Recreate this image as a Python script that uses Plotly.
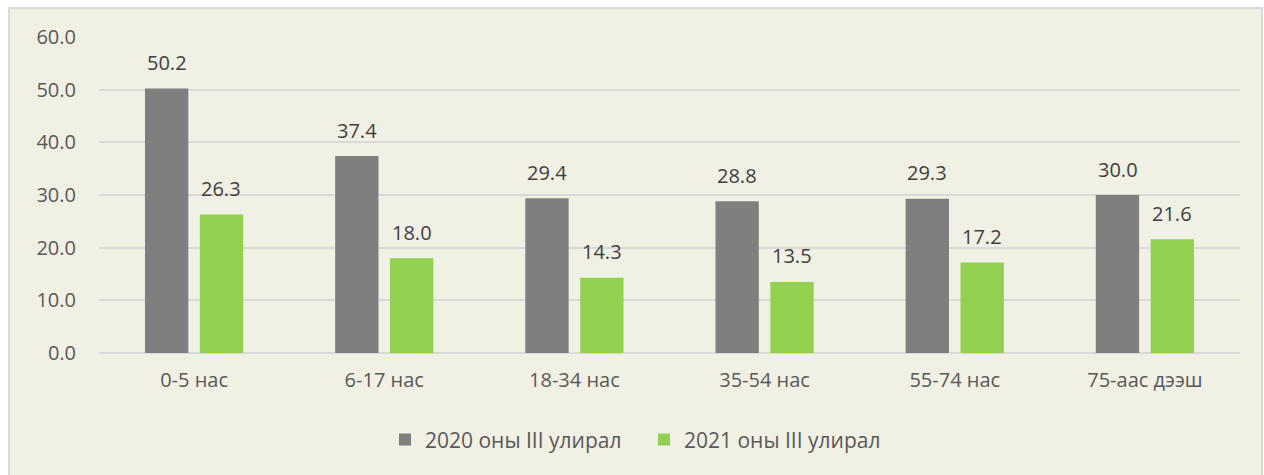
import plotly.graph_objects as go

categories = ["0-5 нас", "6-17 нас", "18-34 нас", "35-54 нас", "55-74 нас", "75-аас дээш"]
series_2020 = [50.2, 37.4, 29.4, 28.8, 29.3, 30.0]
series_2021 = [26.3, 18.0, 14.3, 13.5, 17.2, 21.6]
series_names = ["2020 оны III улирал", "2021 оны III улирал"]
y_ticks = [0, 10, 20, 30, 40, 50, 60]

FONT = "Open Sans"
TXT = "#595959"
FS = 20

fig = go.Figure()
fig.add_trace(go.Bar(
    x=categories, y=series_2020, name=series_names[0],
    marker=dict(color="#7F7F7F", line=dict(width=0)),
))
fig.add_trace(go.Bar(
    x=categories, y=series_2021, name=series_names[1],
    marker=dict(color="#92D050", line=dict(width=0)),
))

annotations = []
for vals, dx in ((series_2020, -27.4), (series_2021, 27.4)):
    for c, v in zip(categories, vals):
        annotations.append(dict(
            x=c, y=v, xref="x", yref="y", text=f"{v:.1f}", showarrow=False,
            xshift=dx, yshift=26, yanchor="middle",
            font=dict(family=FONT, size=FS, color="#404040"),
        ))

fig.update_layout(
    width=1264, height=475,
    margin=dict(l=99, r=24, t=37, b=122, autoexpand=False),
    paper_bgcolor="white",
    plot_bgcolor="rgba(0,0,0,0)",
    barmode="group", bargap=0.423, bargroupgap=0.21,
    font=dict(family=FONT, size=FS, color=TXT),
    showlegend=True,
    legend=dict(orientation="h", x=(385 - 99) / 1141, xanchor="left", y=-0.275, yanchor="middle",
                font=dict(family=FONT, size=21, color=TXT), bgcolor="rgba(0,0,0,0)",
                entrywidth=214, entrywidthmode="pixels", traceorder="normal"),
    xaxis=dict(showgrid=False, showline=False, ticks="", ticklabelstandoff=13,
               tickfont=dict(size=FS, color=TXT)),
    yaxis=dict(range=[0, 60], tickvals=y_ticks, ticktext=[f"{v:.1f}" for v in y_ticks],
               showgrid=True, gridcolor="#D9D9D9", gridwidth=1.5, zeroline=True,
               zerolinecolor="#D9D9D9", zerolinewidth=1.5, showline=False, ticks="",
               ticklabelstandoff=22, tickfont=dict(size=FS, color=TXT)),
    annotations=annotations,
    shapes=[dict(type="rect", xref="paper", yref="paper", layer="below",
                 x0=(9 - 99) / 1141, x1=(1262 - 99) / 1141,
                 y0=-0.5, y1=1 + (37 - 8) / 316,
                 fillcolor="#F1F0E5", line=dict(color="#D9D9D9", width=2))],
)

fig.write_html("out.html", config={"displayModeBar": False},
               post_script="document.body.style.margin='0';document.body.style.overflow='hidden';")
